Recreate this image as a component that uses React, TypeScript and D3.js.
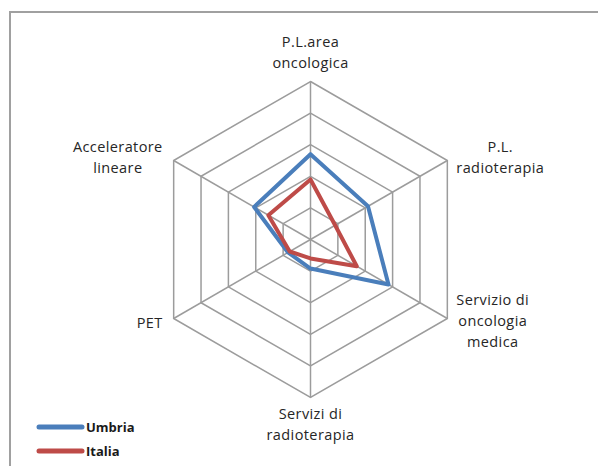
import React, { useEffect, useRef } from "react";
import * as d3 from "d3";

// axes, clockwise from the top
const categories = [
    ["P.L.area", "oncologica"],
    ["P.L.", "radioterapia"],
    ["Servizio di", "oncologia", "medica"],
    ["Servizi di", "radioterapia"],
    ["PET"],
    ["Acceleratore", "lineare"],
];
const umbria = [2.7, 2.1, 2.85, 0.92, 0.82, 2.06];
const italia = [1.9, 0.9, 1.69, 0.6, 0.76, 1.54];
const levels = [1, 2, 3, 4, 5];
const seriesNames = ["Umbria", "Italia"];

const App = () => {
    const ref = useRef(null);

    useEffect(() => {
        document.body.style.margin = "0";
        const width = 598;
        const height = 466;
        const cx = 310.5;
        const cy = 239.5;

        const svg = d3.select(ref.current);
        svg.selectAll("*").remove();
        svg.attr("width", width).attr("height", height);

        // chart frame (right and bottom edges lie outside the picture)
        svg.append("rect")
            .attr("x", 10)
            .attr("y", 12)
            .attr("width", 700)
            .attr("height", 600)
            .attr("fill", "white")
            .attr("stroke", "#a0a0a0")
            .attr("stroke-width", 2);

        const r = d3.scaleLinear().domain([0, 5]).range([0, 158]);
        const angle = (i) => (i * 2 * Math.PI) / categories.length;
        const pt = (i, v) => [
            cx + r(v) * Math.sin(angle(i)),
            cy - r(v) * Math.cos(angle(i)),
        ];

        const closed = d3.line().curve(d3.curveLinearClosed);
        const g = svg.append("g");

        // grid rings
        g.selectAll(".ring")
            .data(levels)
            .join("path")
            .attr("d", (l) => closed(categories.map((c, i) => pt(i, l))))
            .attr("fill", "none")
            .attr("stroke", "#9c9c9c")
            .attr("stroke-width", 1.5);

        // spokes
        g.selectAll(".spoke")
            .data(categories)
            .join("line")
            .attr("x1", cx)
            .attr("y1", cy)
            .attr("x2", (c, i) => pt(i, 5)[0])
            .attr("y2", (c, i) => pt(i, 5)[1])
            .attr("stroke", "#9c9c9c")
            .attr("stroke-width", 1.5);

        // series
        const series = [
            { name: seriesNames[0], values: umbria, color: "#4a7ebb" },
            { name: seriesNames[1], values: italia, color: "#be4b48" },
        ];
        g.selectAll(".series")
            .data(series)
            .join("path")
            .attr("d", (s) => closed(s.values.map((v, i) => pt(i, v))))
            .attr("fill", "none")
            .attr("stroke", (s) => s.color)
            .attr("stroke-width", 4)
            .attr("stroke-linejoin", "round");

        // axis labels
        const firstDy = { 1: 9.5, 2: -8.5, 3: -13.5 };
        categories.forEach((lines, i) => {
            const [vx, vy] = pt(i, 5);
            const s = Math.sin(angle(i));
            const c = Math.cos(angle(i));
            const t = svg.append("text")
                .attr("font-family", "'Open Sans', sans-serif")
                .attr("font-size", 14.5)
                .attr("letter-spacing", 0.4)
                .attr("fill", "#262626")
                .attr("text-anchor", "middle");
            const spans = lines.map((line) => t.append("tspan").text(line));
            const maxW = d3.max(spans, (sp) => sp.node().getComputedTextLength());
            let x;
            let y0;
            if (Math.abs(s) < 0.01) {
                x = vx;
                y0 = c > 0 ? vy - 14.5 - 20.5 * (lines.length - 1) : vy + 21;
            } else {
                x = s > 0 ? vx + 9 + maxW / 2 : vx - 11 - maxW / 2;
                y0 = vy + firstDy[lines.length];
            }
            spans.forEach((sp, k) => sp.attr("x", x).attr("y", y0 + k * 21));
        });

        // legend
        const legend = svg.append("g")
            .selectAll("g")
            .data(series)
            .join("g")
            .attr("transform", (d, i) => `translate(0,${427 + i * 24})`);
        legend.append("line")
            .attr("x1", 39)
            .attr("x2", 82)
            .attr("stroke", (d) => d.color)
            .attr("stroke-width", 5)
            .attr("stroke-linecap", "round");
        legend.append("text")
            .attr("x", 86)
            .attr("y", 5)
            .attr("font-family", "'Open Sans', sans-serif")
            .attr("font-size", 13)
            .attr("font-weight", "bold")
            .attr("fill", "#1a1a1a")
            .text((d) => d.name);
    }, []);

    return <svg ref={ref} style={{ display: "block" }}></svg>;
};

export default App;
